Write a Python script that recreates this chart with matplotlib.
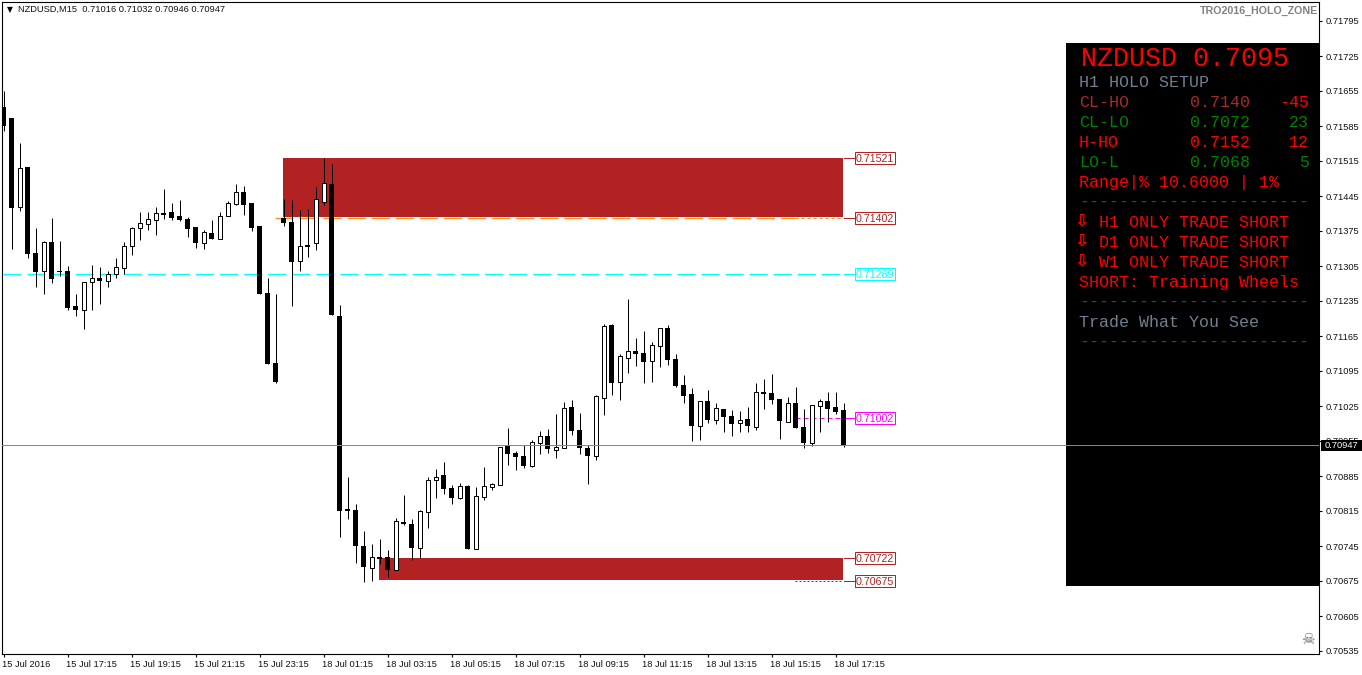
import matplotlib
matplotlib.use("Agg")
import matplotlib.pyplot as plt
from matplotlib.patches import Rectangle
from matplotlib.transforms import ScaledTranslation

opens = [71624,71602,71424,71504,71332,71296,71354,71296,71296,71226,71218,71274,71282,71276,71290,71302,71346,71382,71390,71398,
71412,71414,71406,71400,71384,71352,71372,71360,71406,71430,71454,71432,71386,71252,71112,71402,71394,71316,71348,71352,
71434,71470,71206,70820,70818,70746,70702,70724,70724,70698,70794,70790,70742,70814,70878,70888,70862,70842,70866,70740,
70844,70864,70868,70946,70932,70926,70906,70952,70966,70938,70942,71024,70978,70942,70926,71042,71188,71074,71122,71136,
71132,71116,71146,71182,71120,71068,71050,70986,71036,70998,71020,71006,70992,71000,70984,71054,71052,71040,70994,71032,
70984,70952,71026,71036,71024,71018]
highs = [71656,71602,71552,71504,71382,71356,71402,71356,71306,71250,71274,71308,71304,71296,71322,71354,71384,71414,71414,71424,
71460,71432,71438,71404,71384,71378,71398,71414,71436,71470,71466,71432,71386,71282,71250,71440,71438,71418,71420,71464,
71522,71510,71228,70884,70830,70776,70750,70760,70738,70802,70848,70800,70818,70884,70900,70914,70868,70872,70868,70864,
70904,70872,70944,70982,70936,70948,70958,70976,70980,71010,71034,71038,71012,70948,71048,71190,71190,71130,71240,71162,
71176,71154,71182,71188,71130,71088,71062,71036,71058,71032,71020,71018,71016,71024,71072,71080,71090,71040,71044,71064,
71020,71028,71040,71054,71054,71032]
lows = [71576,71340,71416,71322,71264,71250,71272,71286,71218,71206,71180,71218,71230,71264,71282,71290,71328,71358,71378,71368,
71400,71398,71396,71364,71342,71340,71360,71360,71406,71428,71408,71376,71250,71110,71072,71386,71226,71296,71324,71338,
71428,71208,70764,70800,70712,70674,70676,70710,70684,70698,70788,70718,70722,70782,70842,70850,70830,70840,70740,70740,
70838,70858,70868,70908,70898,70902,70904,70930,70932,70922,70942,70968,70930,70870,70918,71008,71048,71038,71092,71106,
71072,71074,71104,71108,71064,71032,70956,70958,70992,70990,70974,70966,70974,70974,70978,71020,71030,70960,70994,70982,
70942,70946,70974,70994,71010,70944]
closes = [71586,71422,71502,71330,71294,71354,71280,71294,71222,71218,71274,71282,71276,71290,71304,71346,71382,71392,71400,71412,
71408,71402,71398,71380,71352,71374,71360,71406,71432,71454,71428,71382,71250,71110,71074,71392,71314,71346,71344,71440,
71472,71208,70816,70816,70746,70704,70724,70720,70698,70796,70790,70742,70816,70878,70884,70860,70842,70866,70740,70846,
70866,70870,70944,70930,70924,70906,70954,70966,70940,70944,71022,70976,70942,70926,71046,71186,71072,71126,71136,71130,
71114,71148,71182,71118,71066,71046,70986,71036,70998,71022,71004,70990,70998,70986,71054,71050,71038,70996,71032,70982,
70952,71028,71036,71020,71014,70946]

price_ticks = [70535,70605,70675,70745,70815,70885,70955,71025,71095,71165,71235,71305,71375,71445,71515,71585,71655,71725,71795]
time_ticks = [0,8,16,24,32,40,48,56,64,72,80,88,96,104]
time_labels = ["15 Jul 2016","15 Jul 17:15","15 Jul 19:15","15 Jul 21:15","15 Jul 23:15","18 Jul 01:15","18 Jul 03:15",
               "18 Jul 05:15","18 Jul 07:15","18 Jul 09:15","18 Jul 11:15","18 Jul 13:15","18 Jul 15:15","18 Jul 17:15"]
zone_hi = (71521, 71402)
zone_lo = (70722, 70675)
mid_level = 71289
pivot_level = 71002
last_price = 70947
header = "NZDUSD,M15  0.71016 0.71032 0.70946 0.70947"

W, H = 1362, 675
fig = plt.figure(figsize=(W/100, H/100), dpi=100, facecolor="white")
L, R, T, B = 2, 1319, 2, 654
ax = fig.add_axes([L/W, 1-B/H, (R-L)/W, (B-T)/H])
px = lambda x: (x-3.5)/8
py = lambda y: 71837-2*y
ax.set_xlim(px(L), px(R))
ax.set_ylim(py(B), py(T))
for s in ax.spines.values():
    s.set_linewidth(0.8); s.set_color("black")

FONT = "Liberation Sans"
TS = 6.7
LW = 0.72
ax.yaxis.tick_right()
ax.set_yticks(price_ticks)
ax.set_yticklabels([f"{p/1e5:.5f}" for p in price_ticks], family=FONT, fontsize=TS, color="#111111")
ax.tick_params(axis="y", length=2.5, width=0.8, pad=2.2)
ax.set_xticks(time_ticks)
ax.set_xticklabels(time_labels, family=FONT, fontsize=TS, ha="left", color="#111111")
ax.tick_params(axis="x", length=2.5, width=0.8, pad=2)
shift = ScaledTranslation(-1/100, 0, fig.dpi_scale_trans)
for lab in ax.get_xticklabels():
    lab.set_transform(lab.get_transform() + shift)

# zones
ZC = "#b22222"
ax.add_patch(Rectangle((px(283), zone_hi[1]+2), px(843)-px(283), zone_hi[0]-zone_hi[1]-2, color=ZC, lw=0, zorder=1))
ax.add_patch(Rectangle((px(379), zone_lo[1]+2), px(843)-px(379), zone_lo[0]-zone_lo[1]-2, color=ZC, lw=0, zorder=1))

# levels
ax.plot([px(3), px(843)], [mid_level]*2, color="cyan", lw=1.0, dashes=(13, 4.33), zorder=2)
ax.plot([px(275), px(795)], [zone_hi[1]]*2, color="#f7941e", lw=1.0, dashes=(13, 4.33), zorder=2)
ax.plot([px(795), px(843)], [zone_hi[1]]*2, color="#f7941e", lw=LW, dashes=(3, 3), zorder=2)
ax.plot([px(795), px(843)], [zone_lo[1]]*2, color=ZC, lw=LW, dashes=(2, 2), zorder=2)
ax.plot([px(795), px(843)], [pivot_level]*2, color="magenta", lw=LW, dashes=(5, 3), zorder=2)

# candles
for i, (o, h, l, c) in enumerate(zip(opens, highs, lows, closes)):
    ax.plot([i, i], [l, h], color="black", lw=LW, solid_capstyle="butt", zorder=3)
    top, bot = max(o, c), min(o, c)
    if c >= o:
        ax.add_patch(Rectangle((i-2/8, bot), 4/8, top-bot, fc="white", ec="black", lw=LW, zorder=4))
    else:
        ax.add_patch(Rectangle((i-2.5/8, bot), 5/8, max(top-bot, 2), fc="black", lw=0, zorder=4))

# panel
ax.add_patch(Rectangle((px(1066), py(586)), px(1319.5)-px(1066), py(43)-py(586), fc="black", lw=0, zorder=5))
ax.axhline(last_price, color="#778899", lw=LW, zorder=6)

MONO = "Liberation Mono"
def ptext(x, y, s, color, size=12, ha="left", fam=MONO, **kw):
    ax.text(px(x), py(y), s, color=color, fontsize=size, family=fam, ha=ha, va="center", zorder=7, **kw)

RED, GRN, BRN, SLT, DSH = "#ff0000", "#008000", "#a52a2a", "#708090", "#2f4f4f"
ptext(1081, 58.5, "NZDUSD 0.7095", RED, size=19.2)
ptext(1079, 82.5, "H1 HOLO SETUP", SLT)
for y, n, v, d, col1, col2 in [(102.5,"CL-HO","0.7140","-45",BRN,RED),(122.5,"CL-LO","0.7072","23",GRN,GRN),
                               (142.5,"H-HO","0.7152","12",RED,RED),(162.5,"LO-L","0.7068","5",GRN,GRN)]:
    ptext(1079, y, n, col1); ptext(1190, y, v, col1); ptext(1309, y, d, col2, ha="right")
ptext(1079, 182.5, "Range|% 10.6000 | 1%", RED)
ptext(1079, 202.5, "-"*23, DSH)
for y, s in [(222.5,"H1"),(242.5,"D1"),(262.5,"W1")]:
    ptext(1081.5, y-2, "\u21e9", RED, size=12.5, ha="center", fam="DejaVu Sans", weight="bold")
    ptext(1099, y, f"{s} ONLY TRADE SHORT", RED)
ptext(1079, 282.5, "SHORT: Training Wheels", RED)
ptext(1079, 302.5, "-"*23, DSH)
ptext(1079, 322.5, "Trade What You See", SLT)
ptext(1079, 342.5, "-"*23, DSH)

# level labels
for val, col in [(zone_hi[0], ZC), (zone_hi[1], ZC), (mid_level, "cyan"), (pivot_level, "magenta"), (zone_lo[0], ZC), (zone_lo[1], ZC)]:
    ax.plot([px(844), px(855)], [val]*2, color=col, lw=LW, zorder=3)
    ax.add_patch(Rectangle((px(854.5), val-12), px(895)-px(854.5), 24, fc="white", ec=col, lw=LW, zorder=7.5))
    ax.text(px(875), val, f"{val/1e5:.5f}", color=col, fontsize=7.7, family=FONT, ha="center", va="center_baseline", zorder=8)

# header
fig.text(18/W, 1-9.5/H, header, fontsize=TS, family=FONT, va="center", color="#111111")
fig.text(10/W, 1-9.5/H, "\u25bc", fontsize=5.5, family="DejaVu Sans", va="center", ha="center", color="black")
fig.text(1318/W, 1-11/H, "TRO2016_HOLO_ZONE", fontsize=7.7, family=FONT, weight="bold", va="center", ha="right", color="#808080")
ptext(1308, 640, "\u2620", "#5a6a7a", size=11, ha="center", fam="DejaVu Sans", weight="bold")

# current price tag
fig.add_artist(Rectangle((1321/W, 1-451/H), 41/W, 11/H, transform=fig.transFigure, fc="black", lw=0, zorder=9))
fig.text(1325/W, 1-445.5/H, f"{last_price/1e5:.5f}", fontsize=TS, family=FONT, color="white", ha="left", va="center", zorder=10)
fig.savefig("out.png", dpi=100)
